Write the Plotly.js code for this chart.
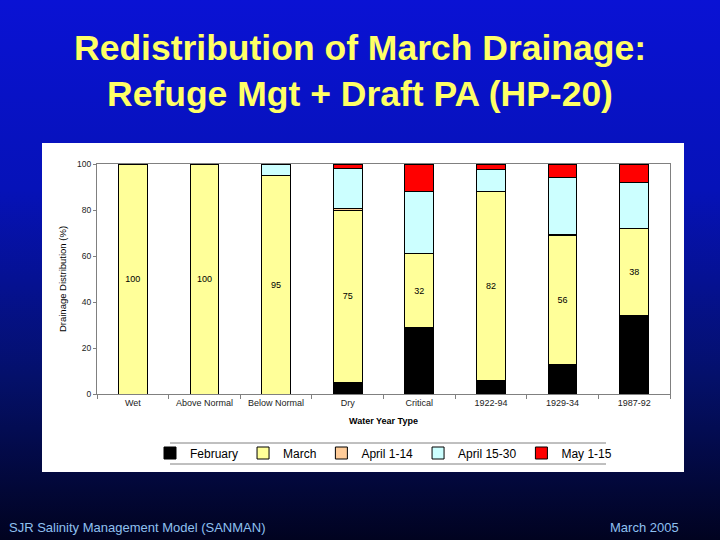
<!DOCTYPE html>
<html>
<head>
<meta charset="utf-8">
<script src="https://cdn.plot.ly/plotly-3.0.1.min.js"></script>
<style>
  html, body { margin: 0; padding: 0; }
  body { width: 720px; height: 540px; background: linear-gradient(to bottom, #0a12d4 0%, #0612b8 35%, #04106a 70%, #010320 100%); }
  #chart { width: 720px; height: 540px; }
</style>
</head>
<body>
<div id="chart"></div>
<script>
const categories = ["Wet", "Above Normal", "Below Normal", "Dry", "Critical", "1922-94", "1929-34", "1987-92"];
const february   = [0, 0, 0, 5, 29, 6, 13, 34];
const march      = [100, 100, 95, 75, 32, 82, 56, 38];
const april1_14  = [0, 0, 0, 0.5, 0, 0, 0.5, 0];
const april15_30 = [0, 0, 5, 17.5, 27, 9.5, 24.5, 20];
const may1_15    = [0, 0, 0, 2, 12, 2.5, 6, 8];

const seriesNames  = ["February", "March", "April 1-14", "April 15-30", "May 1-15"];
const seriesColors = ["#000000", "#ffff99", "#ffcc99", "#ccffff", "#ff0000"];
const seriesValues = [february, march, april1_14, april15_30, may1_15];

const traces = seriesValues.map((vals, i) => ({
  type: "bar",
  name: seriesNames[i],
  x: categories,
  y: vals,
  marker: { color: seriesColors[i], line: { color: "#000000", width: 1 } },
  text: i === 1 ? vals.map(v => String(v)) : undefined,
  textposition: i === 1 ? "inside" : "none",
  insidetextanchor: "middle",
  textangle: 0,
  textfont: { family: "Liberation Sans, Arial, sans-serif", size: 9, color: "#000000" },
  hoverinfo: "x+y+name"
}));

// pixel -> paper helpers (plot area: x 97..670, y 164..394)
const L = 97, R = 670, T = 164, B = 394;
const px = p => (p - L) / (R - L);
const py = p => (B - p) / (B - T);

const layout = {
  width: 720, height: 540,
  paper_bgcolor: "rgba(0,0,0,0)",
  plot_bgcolor: "#ffffff",
  margin: { l: L, r: 720 - R, t: T, b: 540 - B, pad: 0 },
  barmode: "stack",
  bargap: 0.6,
  showlegend: true,
  font: { family: "Liberation Sans, Arial, sans-serif", color: "#000000" },
  title: {
    text: "Redistribution of March Drainage:<br>Refuge Mgt + Draft PA (HP-20)",
    font: { family: "Liberation Sans, Arial, sans-serif", size: 35.5, color: "#ffff66", weight: "bold" },
    x: 0.5, xanchor: "center", xref: "container",
    y: 1 - 60 / 540, yanchor: "middle", yref: "container"
  },
  xaxis: {
    type: "category",
    showline: true, linecolor: "#808080", linewidth: 1, mirror: true,
    ticks: "outside", tickson: "boundaries", ticklen: 4, tickcolor: "#808080",
    tickfont: { size: 9, color: "#222222" },
    showgrid: false,
    title: { text: "Water Year Type", font: { size: 9, color: "#000000", weight: "bold" }, standoff: 10 }
  },
  yaxis: {
    range: [0, 100], dtick: 20,
    showline: true, linecolor: "#808080", linewidth: 1, mirror: true,
    ticks: "outside", ticklen: 3, tickcolor: "#808080",
    tickfont: { size: 8.5, color: "#222222" },
    showgrid: false, zeroline: false,
    title: { text: "Drainage Distribution (%)", font: { size: 9.5, color: "#000000" }, standoff: 8 }
  },
  legend: {
    orientation: "h",
    x: 0.5, xanchor: "center",
    y: py(453), yanchor: "middle",
    bgcolor: "rgba(0,0,0,0)",
    font: { size: 12, color: "#000000" },
    traceorder: "normal",
    itemwidth: 30
  },
  shapes: [
    { type: "rect", xref: "paper", yref: "paper", layer: "below",
      x0: px(42), x1: px(684), y0: py(472), y1: py(143),
      fillcolor: "#ffffff", line: { width: 0 } },
    { type: "line", xref: "paper", yref: "paper",
      x0: px(170), x1: px(606), y0: py(443), y1: py(443),
      line: { color: "#808080", width: 1 } },
    { type: "line", xref: "paper", yref: "paper",
      x0: px(170), x1: px(606), y0: py(464), y1: py(464),
      line: { color: "#808080", width: 1 } }
  ],
  annotations: [
    { text: "SJR Salinity Management Model (SANMAN)", xref: "paper", yref: "paper",
      x: px(7), y: py(527), xanchor: "left", yanchor: "middle", showarrow: false,
      font: { size: 13, color: "#8fc0f0" } },
    { text: "March 2005", xref: "paper", yref: "paper",
      x: px(681), y: py(527), xanchor: "right", yanchor: "middle", showarrow: false,
      font: { size: 13, color: "#8fc0f0" } }
  ]
};

Plotly.newPlot("chart", traces, layout, { displayModeBar: false, staticPlot: true });
</script>
</body>
</html>
